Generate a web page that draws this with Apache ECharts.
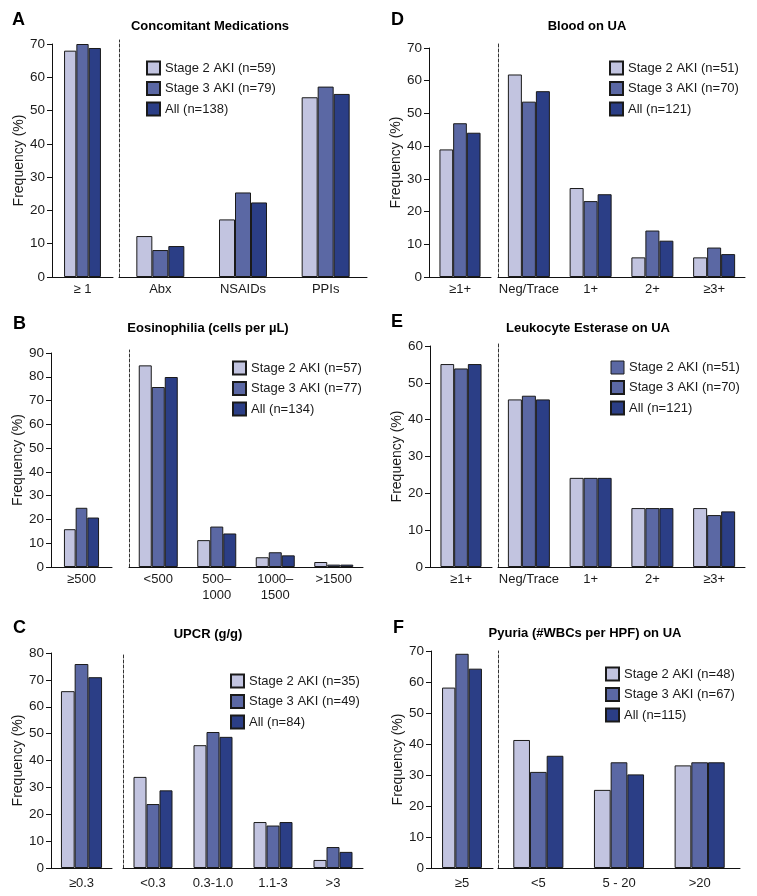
<!DOCTYPE html>
<html>
<head>
<meta charset="utf-8">
<script src="https://cdn.jsdelivr.net/npm/echarts@6/dist/echarts.min.js"></script>
<style>
html,body{margin:0;padding:0;background:#fff;}
#chart{width:757px;height:896px;}
</style>
</head>
<body>
<div id="chart"></div>
<script>
// ---------- DATA ----------
// Panel A: Concomitant Medications
const catsA = ['≥ 1', 'Abx', 'NSAIDs', 'PPIs'];
const stage2A = [68, 12.3, 17.3, 54];
const stage3A = [70, 8.1, 25.4, 57.2];
const allA = [68.8, 9.3, 22.4, 55];
const legendA = ['Stage 2 AKI (n=59)', 'Stage 3 AKI (n=79)', 'All (n=138)'];
const titleA = 'Concomitant Medications';

// Panel B: Eosinophilia
const catsB = ['≥500', '<500', '500–\n1000', '1000–\n1500', '>1500'];
const stage2B = [15.9, 84.8, 11.3, 4.1, 2.1];
const stage3B = [24.9, 75.7, 17, 6.2, 1];
const allB = [20.8, 79.9, 14.1, 4.9, 1];
const legendB = ['Stage 2 AKI (n=57)', 'Stage 3 AKI (n=77)', 'All (n=134)'];
const titleB = 'Eosinophilia (cells per µL)';

// Panel C: UPCR
const catsC = ['≥0.3', '<0.3', '0.3-1.0', '1.1-3', '>3'];
const stage2C = [65.8, 33.9, 45.7, 17.1, 3];
const stage3C = [75.9, 23.8, 50.6, 15.8, 7.8];
const allC = [71, 28.9, 48.8, 17.1, 6];
const legendC = ['Stage 2 AKI (n=35)', 'Stage 3 AKI (n=49)', 'All (n=84)'];
const titleC = 'UPCR (g/g)';

// Panel D: Blood on UA
const catsD = ['≥1+', 'Neg/Trace', '1+', '2+', '≥3+'];
const stage2D = [39, 61.9, 27.2, 6, 6];
const stage3D = [47, 53.6, 23.2, 14.2, 9];
const allD = [44.1, 56.8, 25.3, 11.1, 7];
const legendD = ['Stage 2 AKI (n=51)', 'Stage 3 AKI (n=70)', 'All (n=121)'];
const titleD = 'Blood on UA';

// Panel E: Leukocyte Esterase on UA
const catsE = ['≥1+', 'Neg/Trace', '1+', '2+', '≥3+'];
const stage2E = [55.1, 45.5, 24.2, 16, 16];
const stage3E = [53.9, 46.5, 24.2, 16, 14.1];
const allE = [55.1, 45.5, 24.2, 16, 15.1];
const legendE = ['Stage 2 AKI (n=51)', 'Stage 3 AKI (n=70)', 'All (n=121)'];
const titleE = 'Leukocyte Esterase on UA';

// Panel F: Pyuria
const catsF = ['≥5', '<5', '5 - 20', '>20'];
const stage2F = [58.2, 41.3, 25.2, 33.1];
const stage3F = [69.1, 31, 34.1, 34.1];
const allF = [64.3, 36.2, 30.2, 34.1];
const legendF = ['Stage 2 AKI (n=48)', 'Stage 3 AKI (n=67)', 'All (n=115)'];
const titleF = 'Pyuria (#WBCs per HPF) on UA';

const yMaxes = {A: 70, B: 90, C: 80, D: 70, E: 60, F: 70};
const yAxisName = 'Frequency (%)';

// ---------- STYLE / LAYOUT ----------
const FONT = 'Liberation Sans, Arial, Helvetica, sans-serif';
const TXT = '#1a1a1a';
const COLORS = ['#c2c4e0', '#5b68a4', '#2b3e86'];
const BORDER = '#1a1a1a';

const panels = [
  {letter: 'A', cats: catsA, vals: [stage2A, stage3A, allA], names: legendA, title: titleA,
   yx: 52, lr: 113, dx: 119, rr: 367, top: 44, bot: 277, ext: 4, bwL: 12.3, bwR: 16, lm: 4,
   leg: [146, 60.5], let: [12, 11], tt: [210, 26]},
  {letter: 'B', cats: catsB, vals: [stage2B, stage3B, allB], names: legendB, title: titleB,
   yx: 51, lr: 112, dx: 129, rr: 363, top: 353, bot: 567, ext: 3, bwL: 11.7, bwR: 13, lm: 4,
   leg: [232, 360.5], let: [13, 315], tt: [208, 328]},
  {letter: 'C', cats: catsC, vals: [stage2C, stage3C, allC], names: legendC, title: titleC,
   yx: 51, lr: 112, dx: 123, rr: 363, top: 653, bot: 868, ext: 0, bwL: 13.7, bwR: 13, lm: 7,
   leg: [230, 673.5], let: [13, 619], tt: [208, 634]},
  {letter: 'D', cats: catsD, vals: [stage2D, stage3D, allD], names: legendD, title: titleD,
   yx: 429, lr: 491, dx: 498, rr: 745, top: 48, bot: 277, ext: 5, bwL: 13.7, bwR: 14, lm: 4,
   leg: [609, 60.5], let: [391, 11], tt: [587, 26]},
  {letter: 'E', cats: catsE, vals: [stage2E, stage3E, allE], names: legendE, title: titleE,
   yx: 430, lr: 492, dx: 498, rr: 745, top: 346, bot: 567, ext: 3, bwL: 13.7, bwR: 14, lm: 4,
   leg: [610, 360.5], let: [391, 313], tt: [588, 328], legFirstColor: COLORS[1]},
  {letter: 'F', cats: catsF, vals: [stage2F, stage3F, allF], names: legendF, title: titleF,
   yx: 431, lr: 493, dx: 498, rr: 740, top: 651, bot: 868, ext: 0, bwL: 13.3, bwR: 16.7, lm: 7,
   leg: [605, 666.5], let: [393, 619], tt: [585, 633]}
];

const grid = [], xAxis = [], yAxis = [], series = [], legend = [], graphic = [];

panels.forEach(p => {
  const max = yMaxes[p.letter];
  const h = p.bot - p.top;
  const gL = grid.length;
  grid.push({left: p.yx, top: p.top, width: p.lr - p.yx, height: h, containLabel: false});
  grid.push({left: p.dx, top: p.top - p.ext, width: p.rr - p.dx, height: h + p.ext, containLabel: false});

  const axisLabelX = {color: TXT, fontFamily: FONT, fontSize: 13, margin: p.lm, lineHeight: 16, interval: 0};
  xAxis.push({gridIndex: gL, type: 'category', data: p.cats.slice(0, 1),
    axisLine: {lineStyle: {color: '#111', width: 1}}, axisTick: {show: false}, axisLabel: axisLabelX});
  xAxis.push({gridIndex: gL + 1, type: 'category', data: p.cats.slice(1),
    axisLine: {lineStyle: {color: '#111', width: 1}}, axisTick: {show: false}, axisLabel: axisLabelX});

  yAxis.push({gridIndex: gL, type: 'value', min: 0, max: max, interval: 10,
    name: yAxisName, nameLocation: 'middle', nameGap: 24,
    nameTextStyle: {color: TXT, fontFamily: FONT, fontSize: 14},
    axisLine: {show: true, lineStyle: {color: '#111', width: 1}},
    axisTick: {show: true, length: 5, lineStyle: {color: '#111'}},
    axisLabel: {color: TXT, fontFamily: FONT, fontSize: 13.5, margin: 7},
    splitLine: {show: false}});
  yAxis.push({gridIndex: gL + 1, type: 'value', min: 0, max: max * (h + p.ext) / h,
    axisLine: {show: true, lineStyle: {color: '#333', width: 1, type: [3, 2]}},
    axisTick: {show: false}, axisLabel: {show: false}, splitLine: {show: false}});

  for (let s = 0; s < 3; s++) {
    const common = {type: 'bar', name: p.names[s], barGap: '0%',
      itemStyle: {color: COLORS[s], borderColor: BORDER, borderWidth: 1},
      emphasis: {disabled: true}, animation: false};
    series.push(Object.assign({}, common, {xAxisIndex: gL, yAxisIndex: gL,
      barWidth: p.bwL, data: p.vals[s].slice(0, 1)}));
    series.push(Object.assign({}, common, {xAxisIndex: gL + 1, yAxisIndex: gL + 1,
      barWidth: p.bwR, data: p.vals[s].slice(1)}));
  }

  legend.push({
    orient: 'vertical', left: p.leg[0], top: p.leg[1], itemWidth: 13, itemHeight: 13, itemGap: 5.5,
    icon: 'rect', selectedMode: false, padding: 0,
    textStyle: {color: TXT, fontFamily: FONT, fontSize: 13},
    data: p.names.map((n, i) => (i === 0 && p.legFirstColor)
      ? {name: n, itemStyle: {color: p.legFirstColor, borderColor: BORDER, borderWidth: 1}}
      : {name: n})
  });

  graphic.push({type: 'text', left: p.let[0], top: p.let[1],
    style: {text: p.letter, fill: '#000', font: 'bold 18px ' + FONT}});
  graphic.push({type: 'text', x: p.tt[0], y: p.tt[1],
    style: {text: p.title, fill: '#000', font: 'bold 13px ' + FONT, textAlign: 'center', textVerticalAlign: 'middle'}});
});

const chart = echarts.init(document.getElementById('chart'), null, {renderer: 'canvas'});
chart.setOption({
  backgroundColor: '#fff',
  animation: false,
  grid, xAxis, yAxis, series, legend, graphic
});
</script>
</body>
</html>
